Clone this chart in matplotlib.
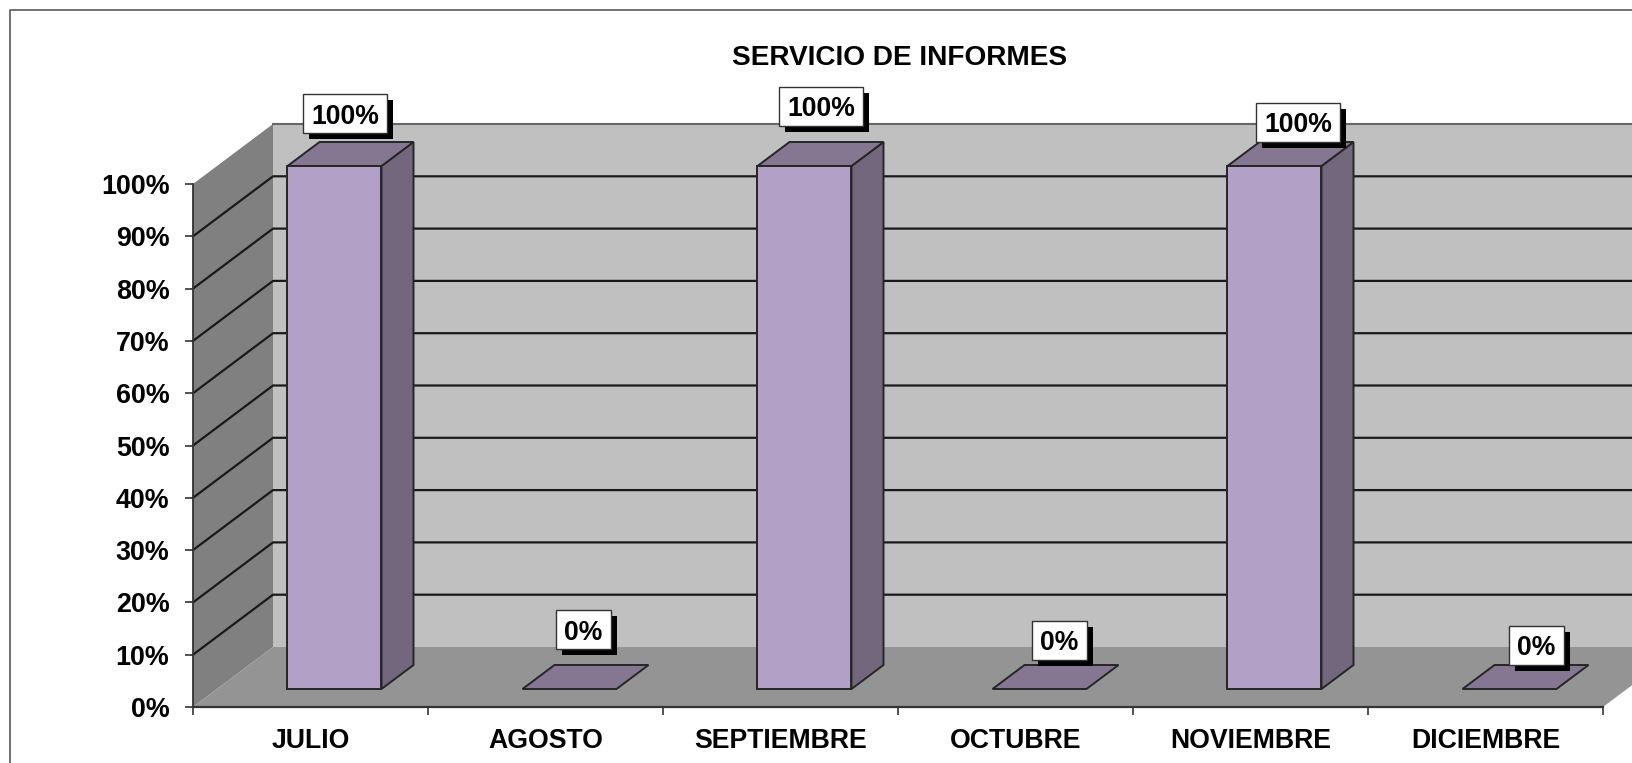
import matplotlib
matplotlib.use('Agg')
import matplotlib.pyplot as plt
from matplotlib.lines import Line2D
from matplotlib.patches import Polygon, Rectangle
from matplotlib.transforms import IdentityTransform

plt.rcParams['font.family'] = ['Liberation Sans', 'DejaVu Sans']
plt.rcParams['font.weight'] = 'bold'

# Data
meses = ['JULIO', 'AGOSTO', 'SEPTIEMBRE', 'OCTUBRE', 'NOVIEMBRE', 'DICIEMBRE']
valores = [100, 0, 100, 0, 100, 0]
ticks_y = [0, 10, 20, 30, 40, 50, 60, 70, 80, 90, 100]

# Label box centre, pixels away from the top of the bar's category
desp_x = [34.5, 38, 41, 44, 47.5, 51]
desp_y = [70.5, 77.5, 77.5, 67, 61.5, 62]

W, H = 1633, 763
fig = plt.figure(figsize=(W / 100, H / 100), dpi=100, facecolor='white')
ax = fig.add_axes([193 / W, (H - 707) / H, 1410 / W, 523 / H])
ax.set_xlim(0, 6)
ax.set_ylim(0, 100)
ax.patch.set_visible(False)

# Fake 3D: how far one unit of depth shifts things, in data units
DX = 80 / 235
DY = 60 / 5.23
ANCHO = 0.4


def p(x, y, d=0.0):
    return (x + d * DX, y + d * DY)


def poly(puntos, color, edge='none', lw=0, z=1):
    ax.add_patch(Polygon(puntos, closed=True, facecolor=color, edgecolor=edge,
                         linewidth=lw, clip_on=False, zorder=z, joinstyle='miter'))


# Walls and floor
poly([p(0, 0), p(0, 100), p(0, 100, 1), p(0, 0, 1)], '#808080')
poly([p(0, 0, 1), p(0, 100, 1), p(6, 100, 1), p(6, 0, 1)], '#c0c0c0')
poly([p(0, 0), p(0, 0, 1), p(6, 0, 1), p(6, 0)], '#949494', z=1.5)
ax.plot(*zip(p(0, 100, 1), p(6, 100, 1)), color='#666666', lw=1.5, clip_on=False, zorder=2)

# Gridlines run along the left wall and then the back wall
for v in ticks_y[1:-1]:
    xs, ys = zip(p(0, v), p(0, v, 1), p(6, v, 1))
    ax.plot(xs, ys, color='#1a1a1a', lw=1.6, clip_on=False, zorder=2)

# Bars
for i, v in enumerate(valores):
    x0 = i + 0.5 - ANCHO / 2
    x1 = i + 0.5 + ANCHO / 2
    d0, d1 = 0.3, 0.7
    edge = '#262626'
    if v > 0:
        poly([p(x1, 0, d0), p(x1, v, d0), p(x1, v, d1), p(x1, 0, d1)], '#72677d', edge, 1.4, 3)
    poly([p(x0, v, d0), p(x1, v, d0), p(x1, v, d1), p(x0, v, d1)], '#857791', edge, 1.4, 3)
    if v > 0:
        poly([p(x0, 0, d0), p(x1, 0, d0), p(x1, v, d0), p(x0, v, d0)], '#b2a0c7', edge, 1.4, 3)

# Data labels: white box with a hard black shadow, boxes placed in pixels
for i, v in enumerate(valores):
    txt = '%d%%' % v
    dx, dy = desp_x[i], desp_y[i]
    cx, cy = ax.transData.transform((i + 0.5, v))
    bw = 84 if v > 0 else 55
    bh = 39
    fig.add_artist(Rectangle((cx + dx - bw / 2 + 6, cy + dy - bh / 2 - 6), bw, bh, facecolor='black',
                             edgecolor='black', lw=0, transform=IdentityTransform(), zorder=5))
    fig.add_artist(Rectangle((cx + dx - bw / 2, cy + dy - bh / 2), bw, bh, facecolor='white',
                             edgecolor='#333333', lw=1, transform=IdentityTransform(), zorder=6))
    fig.text((cx + dx) / W, (cy + dy - 3) / H, txt, ha='center', va='center', fontsize=19.2,
             color='black', zorder=7)

# Axes
ax.set_xticks(range(7))
ax.set_xticklabels([])
ax.set_xticks([i + 0.5 for i in range(6)], meses, minor=True, fontsize=19.2, fontweight='bold')
ax.tick_params(axis='x', which='major', length=6, width=1.2, color='#333333')
ax.tick_params(axis='x', which='minor', length=0, pad=15)
ax.set_yticks(ticks_y)
ax.set_yticklabels(['%d%%' % v for v in ticks_y], fontsize=19.4, fontweight='bold')
ax.tick_params(axis='y', length=6, width=1.2, color='#333333', pad=11)
ax.spines['top'].set_visible(False)
ax.spines['right'].set_visible(False)
ax.spines['left'].set_color('#333333')
ax.spines['bottom'].set_color('#333333')
ax.spines['left'].set_linewidth(1.3)
ax.spines['bottom'].set_linewidth(1.6)
ax.spines['left'].set_zorder(2.5)
ax.spines['bottom'].set_zorder(2.5)

fig.text(900 / W, 1 - 58 / H, 'SERVICIO DE INFORMES', ha='center', va='center',
         fontsize=20.2, fontweight='bold')

# Outer chart frame, only its top and left sides are in the picture
fig.add_artist(Line2D([10 / W, 10 / W, 1], [0, 1 - 10 / H, 1 - 10 / H], color='#666666', lw=1.3))

fig.savefig('out.png', dpi=100, facecolor='white')
